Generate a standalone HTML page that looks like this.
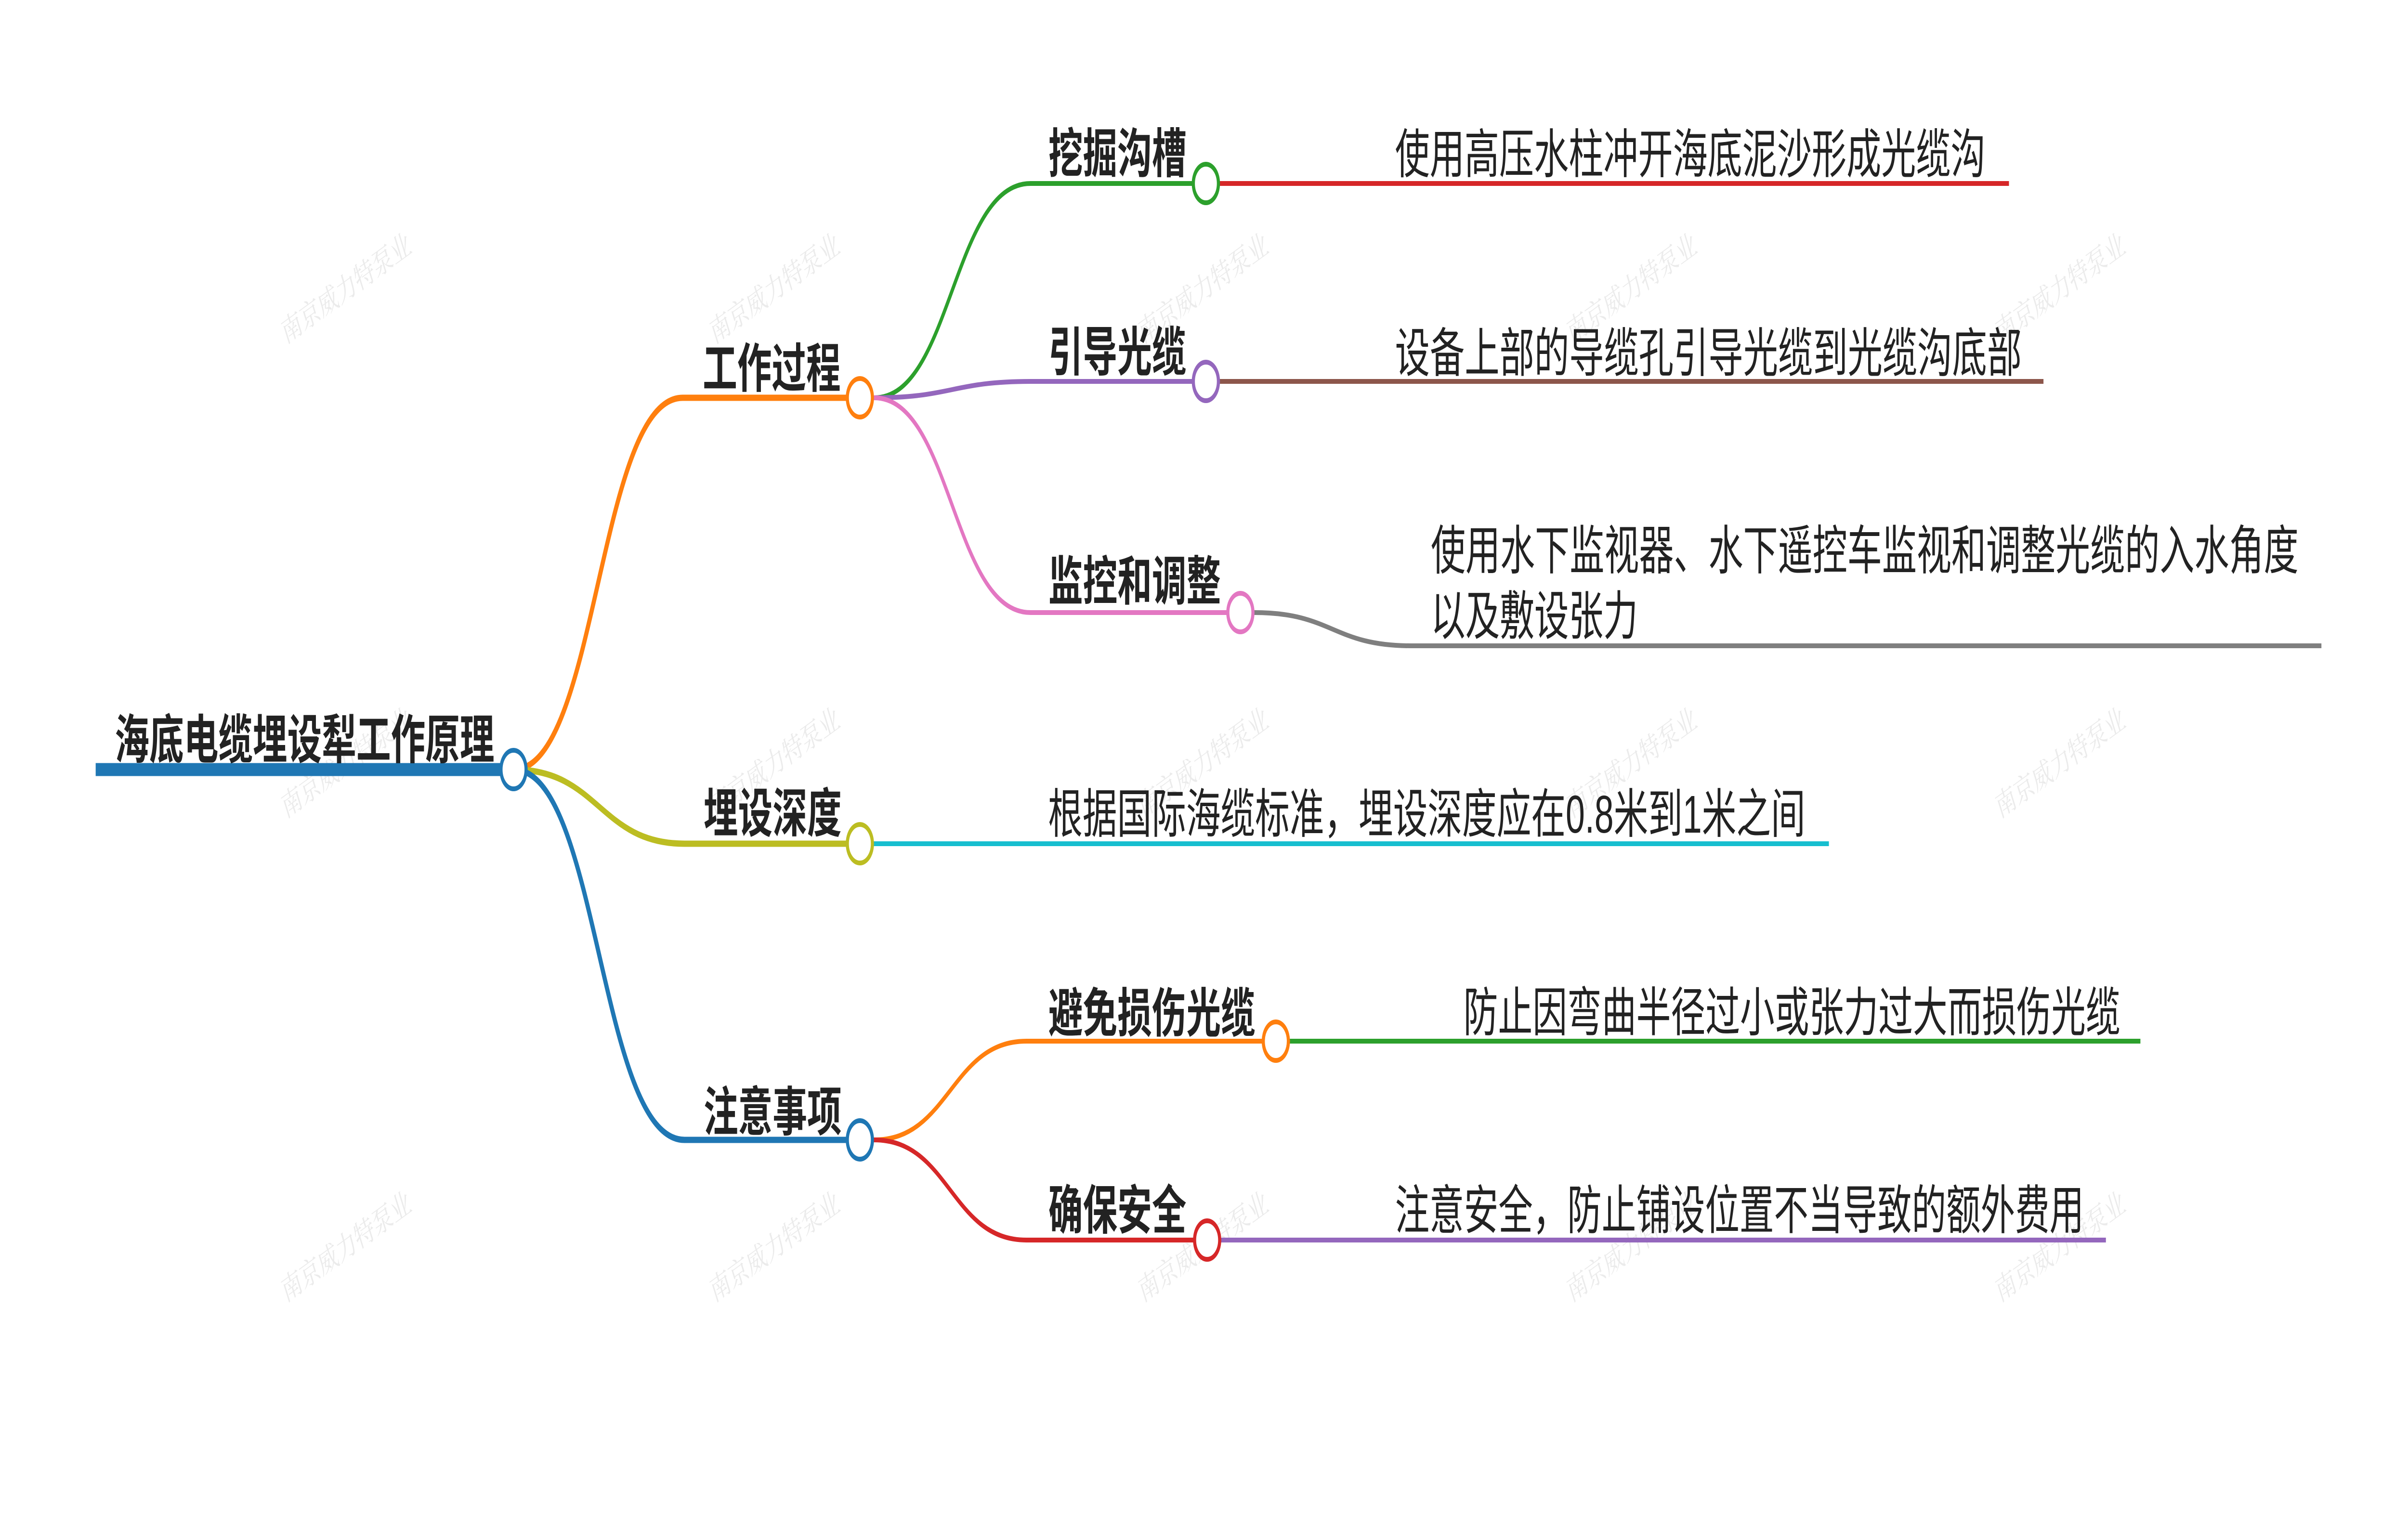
<!DOCTYPE html>
<html>
<head>
<meta charset="utf-8">
<style>
html,body{margin:0;padding:0;background:#fff;overflow:hidden;width:100%;height:100%;}
svg{display:block;position:absolute;left:0;top:0;width:100vw;height:100vh;}
.b{font-family:"Liberation Sans","Noto Sans CJK SC",sans-serif;font-weight:700;font-size:110px;fill:#222;}
.r{font-family:"Liberation Sans","Noto Sans CJK SC",sans-serif;font-weight:400;font-size:110px;fill:#222;}
.w{font-family:"Liberation Serif","Noto Serif CJK SC",serif;font-size:64px;fill:#ebebeb;}
</style>
</head>
<body>
<svg viewBox="0 0 7676 3148" preserveAspectRatio="none" xmlns="http://www.w3.org/2000/svg">
<rect width="7676" height="3148" fill="#fff"/>
<!-- watermarks -->
<g class="w" text-anchor="middle">
<text x="1105" y="620" transform="rotate(-25.4 1105 600)">南京威力特泵业</text>
<text x="2471" y="620" transform="rotate(-25.4 2471 600)">南京威力特泵业</text>
<text x="3837" y="620" transform="rotate(-25.4 3837 600)">南京威力特泵业</text>
<text x="5203" y="620" transform="rotate(-25.4 5203 600)">南京威力特泵业</text>
<text x="6569" y="620" transform="rotate(-25.4 6569 600)">南京威力特泵业</text>
<text x="1105" y="1605" transform="rotate(-25.4 1105 1585)">南京威力特泵业</text>
<text x="2471" y="1605" transform="rotate(-25.4 2471 1585)">南京威力特泵业</text>
<text x="3837" y="1605" transform="rotate(-25.4 3837 1585)">南京威力特泵业</text>
<text x="5203" y="1605" transform="rotate(-25.4 5203 1585)">南京威力特泵业</text>
<text x="6569" y="1605" transform="rotate(-25.4 6569 1585)">南京威力特泵业</text>
<text x="1105" y="2610" transform="rotate(-25.4 1105 2590)">南京威力特泵业</text>
<text x="2471" y="2610" transform="rotate(-25.4 2471 2590)">南京威力特泵业</text>
<text x="3837" y="2610" transform="rotate(-25.4 3837 2590)">南京威力特泵业</text>
<text x="5203" y="2610" transform="rotate(-25.4 5203 2590)">南京威力特泵业</text>
<text x="6569" y="2610" transform="rotate(-25.4 6569 2590)">南京威力特泵业</text>
</g>

<!-- root line -->
<line x1="305" y1="1598" x2="1637" y2="1598" stroke="#1f77b4" stroke-width="27"/>

<!-- level 1 connectors -->
<g fill="none" stroke-width="13">
<path d="M1637,1598 C1906,1598 1906,826 2176,826 L2741,826" stroke="#ff7f0e"/>
<path d="M1637,1598 C1910,1598 1910,1752 2182,1752 L2741,1752" stroke="#bcbd22"/>
<path d="M1637,1598 C1910,1598 1910,2367 2182,2367 L2741,2367" stroke="#1f77b4"/>
</g>

<!-- level 2 connectors -->
<g fill="none" stroke-width="10">
<path d="M2741,826 L2786,826 C3035,826 3035,381 3285,381 L3844,381" stroke="#2ca02c"/>
<path d="M2741,826 L2786,826 C3035,826 3035,792 3285,792 L3844,792" stroke="#9467bd"/>
<path d="M2741,826 L2786,826 C3035,826 3035,1272 3285,1272 L3954,1272" stroke="#e377c2"/>
<path d="M2741,2367 L2786,2367 C3029,2367 3029,2162 3272,2162 L4067,2162" stroke="#ff7f0e"/>
<path d="M2741,2367 L2786,2367 C3029,2367 3029,2575 3272,2575 L3848,2575" stroke="#d62728"/>
</g>

<!-- leaf lines -->
<g fill="none" stroke-width="10">
<path d="M3844,381 L6404,381" stroke="#d62728"/>
<path d="M3844,792 L6514,792" stroke="#8c564b"/>
<path d="M3954,1272 L3998,1272 C4248,1272 4248,1341 4497,1341 L7400,1341" stroke="#7f7f7f"/>
<path d="M2741,1752 L5830,1752" stroke="#17becf"/>
<path d="M4067,2162 L6823,2162" stroke="#2ca02c"/>
<path d="M3848,2575 L6713,2575" stroke="#9467bd"/>
</g>

<!-- circles -->
<g fill="#fff" stroke-width="10">
<circle cx="1637" cy="1598" r="40" stroke="#1f77b4"/>
<circle cx="2741" cy="826" r="40" stroke="#ff7f0e"/>
<circle cx="2741" cy="1752" r="40" stroke="#bcbd22"/>
<circle cx="2741" cy="2367" r="40" stroke="#1f77b4"/>
<circle cx="3844" cy="381" r="40" stroke="#2ca02c"/>
<circle cx="3844" cy="792" r="40" stroke="#9467bd"/>
<circle cx="3954" cy="1272" r="40" stroke="#e377c2"/>
<circle cx="4067" cy="2162" r="40" stroke="#ff7f0e"/>
<circle cx="3848" cy="2575" r="40" stroke="#d62728"/>
</g>

<!-- bold labels -->
<text class="b" x="366" y="1575" textLength="1210" lengthAdjust="spacingAndGlyphs">海底电缆埋设犁工作原理</text>
<text class="b" x="2240" y="804" textLength="440" lengthAdjust="spacingAndGlyphs">工作过程</text>
<text class="b" x="2243" y="1728" textLength="440" lengthAdjust="spacingAndGlyphs">埋设深度</text>
<text class="b" x="2243" y="2348" textLength="440" lengthAdjust="spacingAndGlyphs">注意事项</text>
<text class="b" x="3342" y="358" textLength="440" lengthAdjust="spacingAndGlyphs">挖掘沟槽</text>
<text class="b" x="3342" y="770" textLength="440" lengthAdjust="spacingAndGlyphs">引导光缆</text>
<text class="b" x="3342" y="1246" textLength="550" lengthAdjust="spacingAndGlyphs">监控和调整</text>
<text class="b" x="3342" y="2143" textLength="660" lengthAdjust="spacingAndGlyphs">避免损伤光缆</text>
<text class="b" x="3342" y="2552" textLength="440" lengthAdjust="spacingAndGlyphs">确保安全</text>

<!-- leaf labels -->
<text class="r" x="4447" y="359" textLength="1882" lengthAdjust="spacingAndGlyphs">使用高压水柱冲开海底泥沙形成光缆沟</text>
<text class="r" x="4447" y="772" textLength="1998" lengthAdjust="spacingAndGlyphs">设备上部的导缆孔引导光缆到光缆沟底部</text>
<text class="r" x="4561" y="1182" textLength="2766" lengthAdjust="spacingAndGlyphs">使用水下监视器、水下遥控车监视和调整光缆的入水角度</text>
<text class="r" x="4561" y="1318" textLength="660" lengthAdjust="spacingAndGlyphs">以及敷设张力</text>
<text class="r" x="3341" y="1729" textLength="2414" lengthAdjust="spacingAndGlyphs">根据国际海缆标准，埋设深度应在0.8米到1米之间</text>
<text class="r" x="4665" y="2141" textLength="2094" lengthAdjust="spacingAndGlyphs">防止因弯曲半径过小或张力过大而损伤光缆</text>
<text class="r" x="4447" y="2552" textLength="2196" lengthAdjust="spacingAndGlyphs">注意安全，防止铺设位置不当导致的额外费用</text>
</svg>
</body>
</html>
